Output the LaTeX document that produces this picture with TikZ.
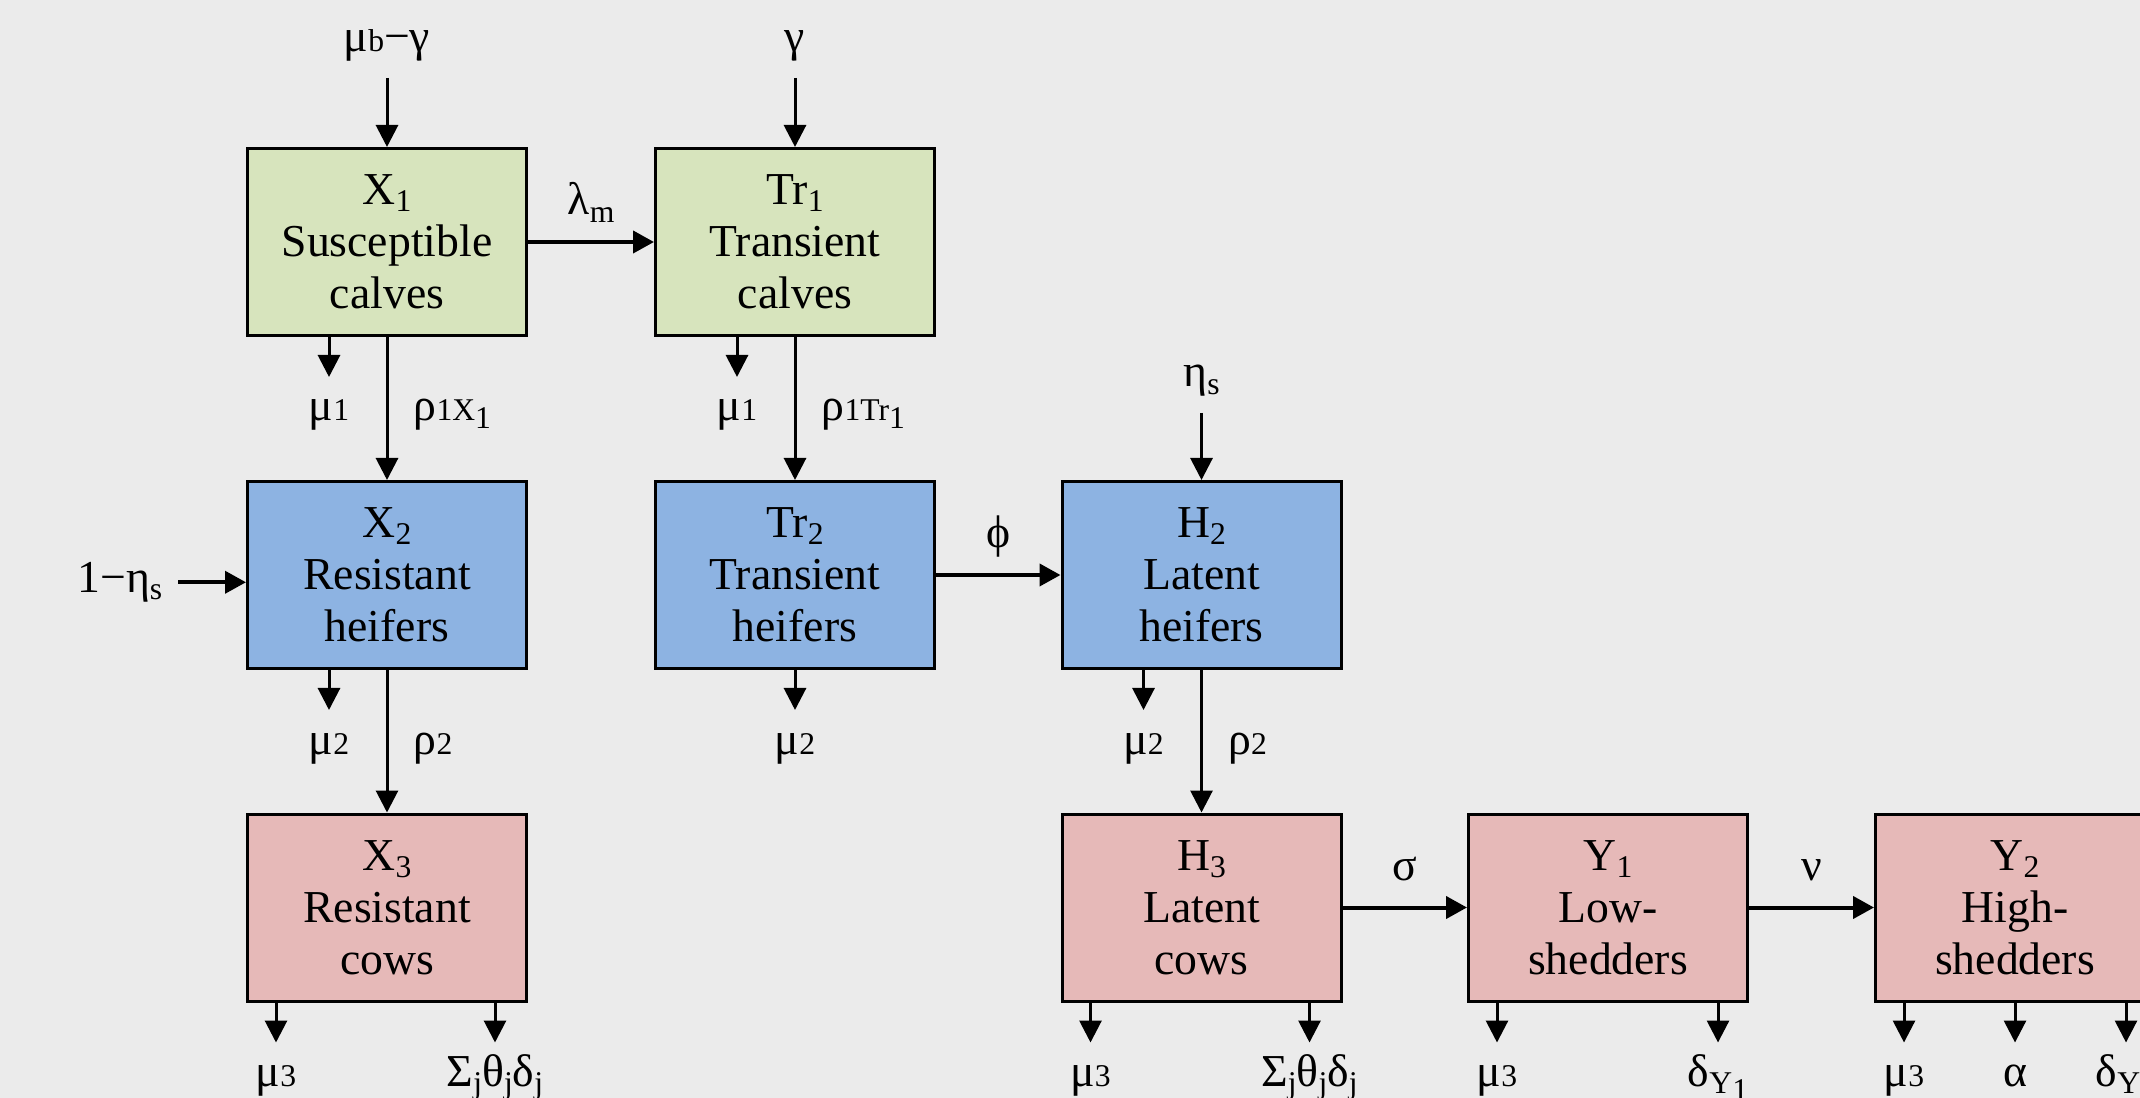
\documentclass[tikz,border=0pt]{standalone}
\usepackage{fontspec}
\setmainfont{Liberation Serif}
\usepackage{xcolor}
\usepackage{tikz}
\usetikzlibrary{arrows.meta}
\usetikzlibrary{positioning}
\usetikzlibrary{calc}

\definecolor{bgGrey}{HTML}{EBEBEB}
\definecolor{calfGreen}{HTML}{D7E4BD}
\definecolor{heiferBlue}{HTML}{8DB3E2}
\definecolor{cowPink}{HTML}{E6B9B8}

\newcommand{\subBase}[1]{{\fontsize{9pt}{9pt}\selectfont #1}}
\newcommand{\subLow}[1]{\raisebox{-2pt}{\fontsize{9pt}{9pt}\selectfont #1}}

\begin{document}
\begin{tikzpicture}[font=\fontsize{13pt}{14.8pt}\selectfont,
	box/.style={draw, line width=0.03cm, minimum width=2.79cm, minimum height=1.87cm, align=center, inner sep=0pt},
	flow/.style={-{Triangle[length=0.22cm, width=0.22cm]}, line width=0.03cm},
	pass/.style={-{Triangle[length=0.21cm, width=0.22cm]}, line width=0.04cm},
	lbl/.style={inner sep=0pt, anchor=base}]
	\clip (0,0) rectangle (21.4,-10.98);
	\fill[bgGrey] (0,0) rectangle (21.4,-10.98);
	\foreach \name/\x/\y/\col/\desc in {X1/3.87/-2.42/calfGreen/{X\subLow{1}\\Susceptible\\calves},
		Tr1/7.95/-2.42/calfGreen/{Tr\subLow{1}\\Transient\\calves},
		X2/3.87/-5.75/heiferBlue/{X\subLow{2}\\Resistant\\heifers},
		Tr2/7.95/-5.75/heiferBlue/{Tr\subLow{2}\\Transient\\heifers},
		H2/12.015/-5.75/heiferBlue/{H\subLow{2}\\Latent\\heifers},
		X3/3.87/-9.075/cowPink/{X\subLow{3}\\Resistant\\cows},
		H3/12.015/-9.075/cowPink/{H\subLow{3}\\Latent\\cows},
		Y1/16.08/-9.075/cowPink/{Y\subLow{1}\\Low-\\shedders},
		Y2/20.15/-9.075/cowPink/{Y\subLow{2}\\High-\\shedders}}
	{
		\node[box, fill=\col] (\name) at (\x,\y) {\desc};
	}

	\node[lbl] (birthX) at ($(X1.north)+(0,0.95)$) {μ\subBase{b}−γ};
	\node[lbl] (birthTr) at ($(Tr1.north)+(0,0.95)$) {γ};
	\node[lbl] (buyH) at ($(H2.north)+(0,0.93)$) {η\subLow{s}};
	\node[lbl, anchor=base east] (buyX) at ($(X2.west)+(-0.83,-0.175)$) {1−η\subLow{s}};
	\draw[flow, shorten <=0.26cm] (birthX.base) -- (X1.north);
	\draw[flow, shorten <=0.26cm] (birthTr.base) -- (Tr1.north);
	\draw[flow, shorten <=0.26cm] (buyH.base) -- (H2.north);
	\draw[pass, shorten <=0.15cm] (buyX.east) -- (buyX.east -| X2.west);

	\draw[pass] (X1) -- node[lbl, yshift=0.27cm] {λ\subLow{m}} (Tr1);
	\draw[pass] (Tr2) -- node[lbl, yshift=0.27cm] {ϕ} (H2);
	\draw[pass] (H3) -- node[lbl, yshift=0.27cm] {σ} (Y1);
	\draw[pass] (Y1) -- node[lbl, yshift=0.27cm] {ν} (Y2);

	\draw[flow] (X1) -- (X2);
	\draw[flow] (Tr1) -- (Tr2);
	\draw[flow] (X2) -- (X3);
	\draw[flow] (H2) -- (H3);
	\node[lbl, anchor=base west] (ageX1) at ($(X1.south)+(0.26,-0.84)$) {ρ\subBase{1X\subLow{1}}};
	\node[lbl, anchor=base west] (ageTr1) at ($(Tr1.south)+(0.26,-0.84)$) {ρ\subBase{1Tr\subLow{1}}};
	\node[lbl, anchor=base west] (ageX2) at ($(X2.south)+(0.26,-0.84)$) {ρ\subBase{2}};
	\node[lbl, anchor=base west] (ageH2) at ($(H2.south)+(0.26,-0.84)$) {ρ\subBase{2}};

	\foreach \src/\dx/\rate[count=\i] in {X1/-0.58/μ\subBase{1}, Tr1/-0.58/μ\subBase{1},
		X2/-0.58/μ\subBase{2}, Tr2/0/μ\subBase{2}, H2/-0.58/μ\subBase{2},
		X3/-1.11/μ\subBase{3}, X3/1.08/{Σ\subLow{j}θ\subLow{j}δ\subLow{j}},
		H3/-1.11/μ\subBase{3}, H3/1.08/{Σ\subLow{j}θ\subLow{j}δ\subLow{j}},
		Y1/-1.11/μ\subBase{3}, Y1/1.10/{δ\subLow{Y\subLow{1}}},
		Y2/-1.11/μ\subBase{3}, Y2/0/α, Y2/1.11/{δ\subLow{Y\subLow{2}}}}
	{
		\coordinate (end\i) at ($(\src.south)+(\dx,-0.40)$);
		\draw[flow] (\src.south -| end\i) -- (end\i);
		\node[lbl] (rate\i) at ($(end\i)+(0,-0.44)$) {\rate};
	}
\end{tikzpicture}
\end{document}
